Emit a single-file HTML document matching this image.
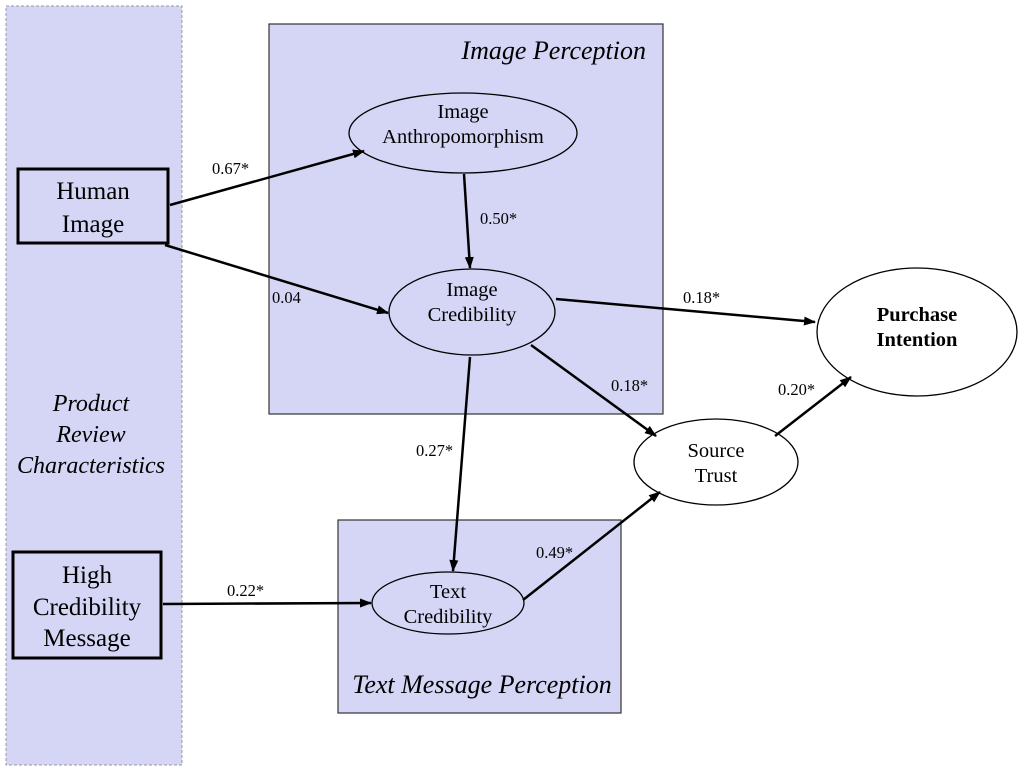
<!DOCTYPE html>
<html><head><meta charset="utf-8"><style>html,body{margin:0;padding:0;background:#fff;}svg{display:block}</style></head>
<body>
<svg width="1024" height="771" viewBox="0 0 1024 771" xmlns="http://www.w3.org/2000/svg" font-family="Liberation Serif, serif">
<defs><marker id="a" markerWidth="12" markerHeight="9" refX="11" refY="4.5" orient="auto" markerUnits="userSpaceOnUse"><path d="M0,0 L12,4.5 L0,9 z" fill="#000"/></marker></defs>
<rect x="6" y="6" width="176" height="759" fill="#d5d5f5" stroke="#999" stroke-dasharray="3,2"/>
<rect x="269" y="24" width="394" height="390" fill="#d5d5f5" stroke="#333" stroke-width="1.2"/>
<rect x="338" y="520" width="283" height="193" fill="#d5d5f5" stroke="#333" stroke-width="1.2"/>
<text x="646" y="59" font-size="26" font-style="italic" text-anchor="end">Image Perception</text>
<text x="482" y="693" font-size="26" font-style="italic" text-anchor="middle">Text Message Perception</text>
<text font-size="24" font-style="italic" text-anchor="middle"><tspan x="91" y="411">Product</tspan><tspan x="91" y="442">Review</tspan><tspan x="91" y="473">Characteristics</tspan></text>
<rect x="18" y="169" width="150" height="74" fill="#d5d5f5" stroke="#000" stroke-width="3"/>
<text font-size="25" text-anchor="middle"><tspan x="93" y="199">Human</tspan><tspan x="93" y="232">Image</tspan></text>
<rect x="13" y="552" width="148" height="106" fill="#d5d5f5" stroke="#000" stroke-width="3"/>
<text font-size="25" text-anchor="middle"><tspan x="87" y="583">High</tspan><tspan x="87" y="615">Credibility</tspan><tspan x="87" y="646">Message</tspan></text>
<g stroke="#000" stroke-width="1.3">
<ellipse cx="463" cy="133" rx="114" ry="40" fill="#d5d5f5"/>
<ellipse cx="472" cy="312" rx="83" ry="43" fill="#d5d5f5"/>
<ellipse cx="448" cy="603" rx="76" ry="31" fill="#d5d5f5"/>
<ellipse cx="716" cy="462" rx="82" ry="43" fill="#fff"/>
<ellipse cx="917" cy="332" rx="100" ry="64" fill="#fff"/>
</g>
<g font-size="20.5" text-anchor="middle">
<text><tspan x="463" y="118">Image</tspan><tspan x="463" y="143">Anthropomorphism</tspan></text>
<text><tspan x="472" y="296">Image</tspan><tspan x="472" y="321">Credibility</tspan></text>
<text><tspan x="448" y="598">Text</tspan><tspan x="448" y="623">Credibility</tspan></text>
<text><tspan x="716" y="457">Source</tspan><tspan x="716" y="482">Trust</tspan></text>
<text font-weight="bold"><tspan x="917" y="321">Purchase</tspan><tspan x="917" y="346">Intention</tspan></text>
</g>
<g stroke="#000" stroke-width="2.5" marker-end="url(#a)" fill="none">
<line x1="170" y1="205" x2="364" y2="151"/>
<line x1="165" y1="245" x2="388" y2="313"/>
<line x1="464" y1="174" x2="470" y2="268"/>
<line x1="556" y1="299" x2="815" y2="322"/>
<line x1="531" y1="345" x2="656" y2="436"/>
<line x1="470" y1="357" x2="453" y2="571"/>
<line x1="163" y1="604" x2="371" y2="603"/>
<line x1="523" y1="600" x2="660" y2="492"/>
<line x1="775" y1="436" x2="851" y2="377"/>
</g>
<g font-size="16.5">
<text x="212" y="174">0.67*</text>
<text x="272" y="303">0.04</text>
<text x="480" y="224">0.50*</text>
<text x="683" y="303">0.18*</text>
<text x="611" y="391">0.18*</text>
<text x="416" y="456">0.27*</text>
<text x="227" y="596">0.22*</text>
<text x="536" y="558">0.49*</text>
<text x="778" y="395">0.20*</text>
</g>
</svg>
</body></html>
